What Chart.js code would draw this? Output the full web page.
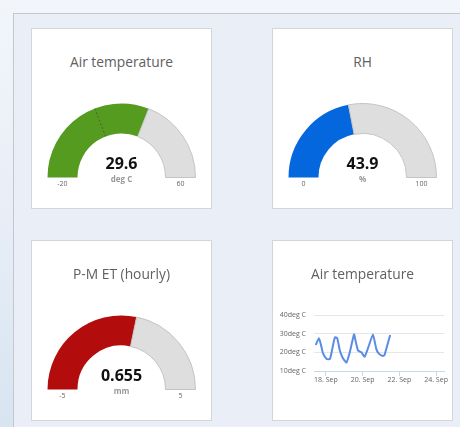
<!DOCTYPE html>
<html><head><meta charset="utf-8">
<script src="https://cdn.jsdelivr.net/npm/chart.js@4"></script>
<style>
html,body{margin:0;padding:0;width:460px;height:427px;overflow:hidden;font-family:"Open Sans",sans-serif}
body{background:linear-gradient(to bottom,#f2f6fa 0%,#e6edf6 55%,#d7e4f2 100%);position:relative}
#frame{position:absolute;left:13px;top:13px;right:0;bottom:0;background:#e9eef7;border-left:1px solid #c4c8ce;border-top:1px solid #c4c8ce}
.panel{position:absolute;width:179px;height:179px;background:#fff;border:1px solid #d3d5d9}
.title{position:absolute;left:0;right:0;top:23px;text-align:center;font-size:13.8px;font-weight:400;color:#606060;line-height:20px;white-space:nowrap}
.gc{position:absolute;left:15px;top:74px;width:149px;height:75px}
.val{position:absolute;left:0;right:0;top:123px;text-align:center;font-size:16px;font-weight:700;color:#111;line-height:22px}
.unit{position:absolute;left:0;right:0;top:145px;text-align:center;font-size:8px;font-weight:700;color:#999;line-height:10px}
.lim{position:absolute;top:150px;width:40px;margin-left:-20px;text-align:center;font-size:7px;color:#666;line-height:10px}
.lc{position:absolute;left:0;top:0;width:179px;height:179px}
</style>
</head><body>
<div id="frame"></div>
<div class="panel" style="left:31px;top:28px" id="p0"></div>
<div class="panel" style="left:272px;top:28px" id="p1"></div>
<div class="panel" style="left:31px;top:240px" id="p2"></div>
<div class="panel" style="left:272px;top:240px" id="p3">
  <div class="title">Air temperature</div>
  <div class="lc"><canvas id="line"></canvas></div>
</div>
<script>
// ---- gauge data ----
const gaugeTitles = ['Air temperature', 'RH', 'P-M ET (hourly)'];
const gaugeValues = [29.6, 43.9, 0.655];
const gaugeValueText = ['29.6', '43.9', '0.655'];
const gaugeUnits = ['deg C', '%', 'mm'];
const gaugeMins = [-20, 0, -5];
const gaugeMaxs = [60, 100, 5];
const gaugeColors = ['#559b1f', '#0567dd', '#b30c0c'];
const airTempMarker = 10.6;

// ---- line chart data ----
const timeDays = [17.44, 17.62, 17.73, 17.84, 18.04, 18.22, 18.35, 18.49, 18.61, 18.76, 18.92, 19.12, 19.30, 19.53, 19.62, 19.75, 19.93, 20.11, 20.32, 20.56, 20.74, 20.86, 21.10, 21.19, 21.50];
const airTemp  = [23.9, 27.5, 24.0, 19.6, 16.4, 16.4, 22.0, 28.0, 27.7, 21.0, 17.0, 14.5, 20.0, 29.6, 26.0, 21.0, 20.0, 17.7, 23.0, 29.6, 22.0, 19.6, 18.0, 18.5, 29.3];
const xTickValues = [18, 20, 22, 24];
const xTickLabels = ['18. Sep', '20. Sep', '22. Sep', '24. Sep'];
const yTickValues = [10, 20, 30, 40];
const yTickLabels = ['10deg C', '20deg C', '30deg C', '40deg C'];

const markerPlugin = {
  id: 'marker',
  afterDatasetsDraw(chart, args, opts) {
    if (opts.value == null) return;
    const arc = chart.getDatasetMeta(0).data[0];
    const frac = (opts.value - opts.min) / (opts.max - opts.min);
    const a = Math.PI + frac * Math.PI;
    const ctx = chart.ctx;
    ctx.save();
    ctx.strokeStyle = 'rgba(70,80,60,0.75)';
    ctx.lineWidth = 1;
    ctx.setLineDash([2, 2]);
    ctx.beginPath();
    ctx.moveTo(arc.x + Math.cos(a) * arc.innerRadius, arc.y + Math.sin(a) * arc.innerRadius);
    ctx.lineTo(arc.x + Math.cos(a) * arc.outerRadius, arc.y + Math.sin(a) * arc.outerRadius);
    ctx.stroke();
    ctx.restore();
  }
};

gaugeTitles.forEach((t, i) => {
  const p = document.getElementById('p' + i);
  p.innerHTML = '<div class="title"></div><div class="gc"><canvas></canvas></div>' +
    '<div class="val"></div><div class="unit"></div>' +
    '<div class="lim" style="left:30.5px"></div><div class="lim" style="left:148.5px"></div>';
  p.querySelector('.title').textContent = t;
  p.querySelector('.val').textContent = gaugeValueText[i];
  p.querySelector('.unit').textContent = gaugeUnits[i];
  const lims = p.querySelectorAll('.lim');
  lims[0].textContent = String(gaugeMins[i]);
  lims[1].textContent = String(gaugeMaxs[i]);
  const filled = gaugeValues[i] - gaugeMins[i];
  const rest = gaugeMaxs[i] - gaugeValues[i];
  new Chart(p.querySelector('canvas'), {
    type: 'doughnut',
    data: { labels: ['value', 'rest'], datasets: [{
      data: [filled, rest],
      backgroundColor: [gaugeColors[i], '#dedede'],
      borderColor: [gaugeColors[i], '#c4c4c4'],
      borderWidth: [0, 1]
    }]},
    options: {
      responsive: true, maintainAspectRatio: false, animation: false,
      rotation: -90, circumference: 180, cutout: '59.5%',
      layout: { padding: 0 },
      plugins: { legend: { display: false }, tooltip: { enabled: false },
        marker: i === 0 ? { value: airTempMarker, min: gaugeMins[0], max: gaugeMaxs[0] } : { value: null } }
    },
    plugins: [markerPlugin]
  });
});

new Chart(document.getElementById('line'), {
  type: 'line',
  data: { datasets: [{
    data: timeDays.map((d, k) => ({ x: d, y: airTemp[k] })),
    borderColor: '#5a8de3', borderWidth: 2, pointRadius: 0, tension: 0.15, fill: false
  }]},
  options: {
    responsive: true, maintainAspectRatio: false, animation: false,
    layout: { padding: { left: 0, right: 8, top: 74, bottom: 29 } },
    plugins: { legend: { display: false }, tooltip: { enabled: false } },
    scales: {
      x: {
        type: 'linear', min: 17.351, max: 24.432,
        afterBuildTicks: s => { s.ticks = xTickValues.map(v => ({ value: v })); },
        afterFit: s => { s.height = 20; },
        border: { display: true, color: '#ccd6eb', width: 1 },
        grid: { drawOnChartArea: false, drawTicks: true, tickLength: 5, tickColor: '#ccd6eb' },
        ticks: { padding: 0, color: '#666', font: { family: 'Open Sans', size: 7 }, maxRotation: 0,
          callback: v => xTickLabels[xTickValues.indexOf(v)] }
      },
      y: {
        min: 10, max: 40,
        afterBuildTicks: s => { s.ticks = yTickValues.map(v => ({ value: v })); },
        afterFit: s => { s.width = 41; },
        border: { display: false },
        grid: { color: '#e6e6e6', drawTicks: false },
        ticks: { padding: 8, color: '#666', font: { family: 'Open Sans', size: 7 },
          callback: v => yTickLabels[yTickValues.indexOf(v)] }
      }
    }
  }
});
</script>
</body></html>
